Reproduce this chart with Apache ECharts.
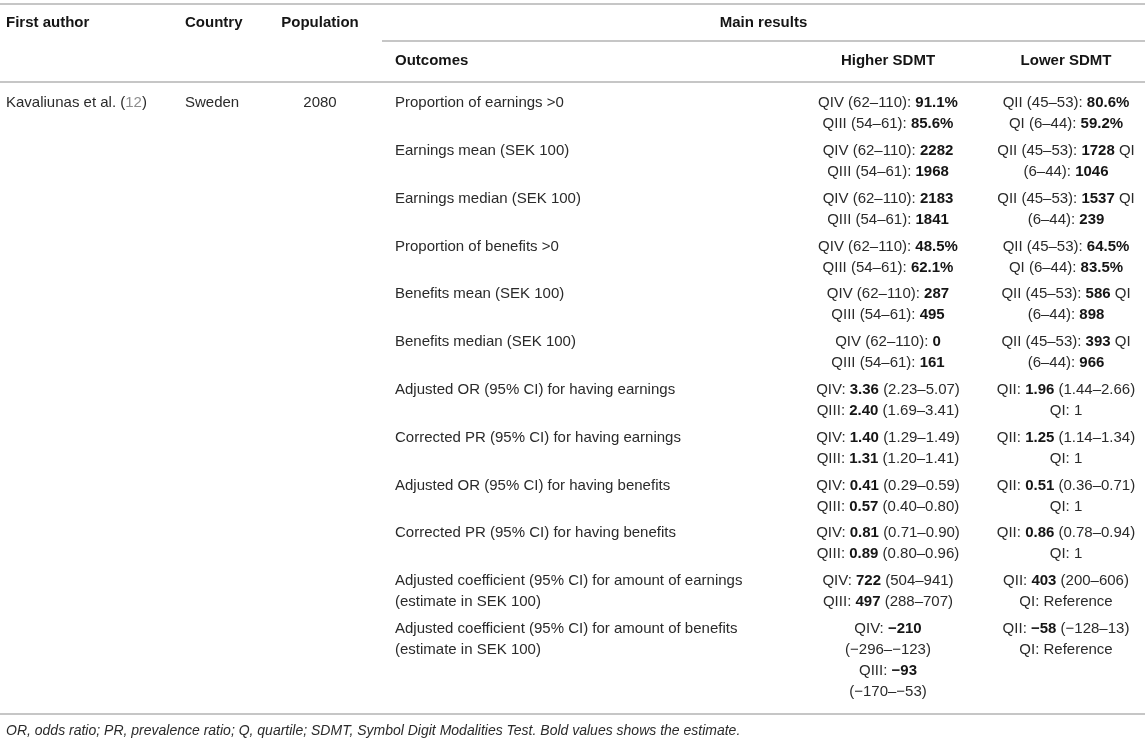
<!DOCTYPE html>
<html>
<head>
<meta charset="utf-8">
<script src="https://cdn.jsdelivr.net/npm/echarts@6/dist/echarts.min.js"></script>
<style>
html,body{margin:0;padding:0;background:#fff;}
#chart{width:1145px;height:743px;}
</style>
</head>
<body>
<div id="chart"></div>
<script>
// ---------- DATA ----------
const headerTop = ['First author', 'Country', 'Population', 'Main results'];
const headerSub = ['Outcomes', 'Higher SDMT', 'Lower SDMT'];
const authors = ['Kavaliunas et al. ({g|12})'];
const countries = ['Sweden'];
const populations = ['2080'];
const outcomes = [
  ['Proportion of earnings >0'],
  ['Earnings mean (SEK 100)'],
  ['Earnings median (SEK 100)'],
  ['Proportion of benefits >0'],
  ['Benefits mean (SEK 100)'],
  ['Benefits median (SEK 100)'],
  ['Adjusted OR (95% CI) for having earnings'],
  ['Corrected PR (95% CI) for having earnings'],
  ['Adjusted OR (95% CI) for having benefits'],
  ['Corrected PR (95% CI) for having benefits'],
  ['Adjusted coefficient (95% CI) for amount of earnings', '(estimate in SEK 100)'],
  ['Adjusted coefficient (95% CI) for amount of benefits', '(estimate in SEK 100)']
];
const higherSDMT = [
  ['QIV (62–110): {b|91.1%}', 'QIII (54–61): {b|85.6%}'],
  ['QIV (62–110): {b|2282}', 'QIII (54–61): {b|1968}'],
  ['QIV (62–110): {b|2183}', 'QIII (54–61): {b|1841}'],
  ['QIV (62–110): {b|48.5%}', 'QIII (54–61): {b|62.1%}'],
  ['QIV (62–110): {b|287}', 'QIII (54–61): {b|495}'],
  ['QIV (62–110): {b|0}', 'QIII (54–61): {b|161}'],
  ['QIV: {b|3.36} (2.23–5.07)', 'QIII: {b|2.40} (1.69–3.41)'],
  ['QIV: {b|1.40} (1.29–1.49)', 'QIII: {b|1.31} (1.20–1.41)'],
  ['QIV: {b|0.41} (0.29–0.59)', 'QIII: {b|0.57} (0.40–0.80)'],
  ['QIV: {b|0.81} (0.71–0.90)', 'QIII: {b|0.89} (0.80–0.96)'],
  ['QIV: {b|722} (504–941)', 'QIII: {b|497} (288–707)'],
  ['QIV: {b|−210}', '(−296–−123)', 'QIII: {b|−93}', '(−170–−53)']
];
const lowerSDMT = [
  ['QII (45–53): {b|80.6%}', 'QI (6–44): {b|59.2%}'],
  ['QII (45–53): {b|1728} QI', '(6–44): {b|1046}'],
  ['QII (45–53): {b|1537} QI', '(6–44): {b|239}'],
  ['QII (45–53): {b|64.5%}', 'QI (6–44): {b|83.5%}'],
  ['QII (45–53): {b|586} QI', '(6–44): {b|898}'],
  ['QII (45–53): {b|393} QI', '(6–44): {b|966}'],
  ['QII: {b|1.96} (1.44–2.66)', 'QI: 1'],
  ['QII: {b|1.25} (1.14–1.34)', 'QI: 1'],
  ['QII: {b|0.51} (0.36–0.71)', 'QI: 1'],
  ['QII: {b|0.86} (0.78–0.94)', 'QI: 1'],
  ['QII: {b|403} (200–606)', 'QI: Reference'],
  ['QII: {b|−58} (−128–13)', 'QI: Reference']
];
const footnote = 'OR, odds ratio; PR, prevalence ratio; Q, quartile; SDMT, Symbol Digit Modalities Test. Bold values shows the estimate.';

// ---------- LAYOUT (styles / positions) ----------
const W = 1145, H = 743;
const FONT = '"Liberation Sans", Arial, Helvetica, sans-serif';
const FS = 15;
const FOOT_FS = 14;
const LINE_H = 21;
const TEXT = '#2a2a2a';
const HEAD = '#151515';
const RULE = '#b3b3b3';
const COLS = [
  {x: 6, align: 'left'},     // author
  {x: 185, align: 'left'},   // country
  {x: 320, align: 'center'}, // population
  {x: 395, align: 'left'},   // outcomes
  {x: 888, align: 'center'}, // higher
  {x: 1066, align: 'center'} // lower
];
const MAIN_SPAN = [382, W];
const HEAD1_Y = 23, HEAD2_Y = 61;
const FIRST_ROW_Y = 103, ROW_PITCH = 47.8;
const RULES = [
  {y: 4, x0: 0, x1: W},
  {y: 41, x0: MAIN_SPAN[0], x1: W},
  {y: 82, x0: 0, x1: W},
  {y: 714, x0: 0, x1: W}
];
const FOOT_Y = 731;

function rowY(i) { return FIRST_ROW_Y + i * ROW_PITCH; }

// build cell items
const cells = [];
function addCell(x, y, lines, align, opts) {
  cells.push(Object.assign({value: [x, y], lines: lines, align: align}, opts || {}));
}
// header row 1
addCell(COLS[0].x, HEAD1_Y, [headerTop[0]], 'left', {bold: true});
addCell(COLS[1].x, HEAD1_Y, [headerTop[1]], 'left', {bold: true});
addCell(COLS[2].x, HEAD1_Y, [headerTop[2]], 'center', {bold: true});
addCell((MAIN_SPAN[0] + MAIN_SPAN[1]) / 2, HEAD1_Y, [headerTop[3]], 'center', {bold: true});
// header row 2
addCell(COLS[3].x, HEAD2_Y, [headerSub[0]], 'left', {bold: true});
addCell(COLS[4].x, HEAD2_Y, [headerSub[1]], 'center', {bold: true});
addCell(COLS[5].x, HEAD2_Y, [headerSub[2]], 'center', {bold: true});
// body
authors.forEach((t, i) => addCell(COLS[0].x, rowY(i), [t], COLS[0].align));
countries.forEach((t, i) => addCell(COLS[1].x, rowY(i), [t], COLS[1].align));
populations.forEach((t, i) => addCell(COLS[2].x, rowY(i), [t], COLS[2].align));
outcomes.forEach((t, i) => addCell(COLS[3].x, rowY(i), t, COLS[3].align));
higherSDMT.forEach((t, i) => addCell(COLS[4].x, rowY(i), t, COLS[4].align));
lowerSDMT.forEach((t, i) => addCell(COLS[5].x, rowY(i), t, COLS[5].align));
// footnote
addCell(COLS[0].x, FOOT_Y, [footnote], 'left', {italic: true, size: FOOT_FS});

const rich = {
  b: {fontWeight: 'bold', fontSize: FS, fontFamily: FONT, fill: HEAD, lineHeight: LINE_H},
  g: {fontSize: FS, fontFamily: FONT, fill: '#8e8e8e', lineHeight: LINE_H}
};

const chart = echarts.init(document.getElementById('chart'), null, {renderer: 'canvas'});
chart.setOption({
  animation: false,
  backgroundColor: '#ffffff',
  grid: {left: 0, right: 0, top: 0, bottom: 0},
  xAxis: {type: 'value', min: 0, max: W, show: false},
  yAxis: {type: 'value', min: 0, max: H, inverse: true, show: false},
  series: [
    {
      type: 'custom',
      name: 'rules',
      clip: false,
      data: RULES.map(r => [r.x0, r.y, r.x1]),
      renderItem: function (params, api) {
        const p0 = api.coord([api.value(0), api.value(1)]);
        const p1 = api.coord([api.value(2), api.value(1)]);
        return {
          type: 'line',
          shape: {x1: p0[0], y1: p0[1], x2: p1[0], y2: p1[1]},
          style: {stroke: RULE, lineWidth: 1.4}
        };
      }
    },
    {
      type: 'custom',
      name: 'cells',
      clip: false,
      data: cells,
      renderItem: function (params, api) {
        const item = cells[params.dataIndex];
        const p = api.coord([api.value(0), api.value(1)]);
        const children = item.lines.map((ln, k) => ({
          type: 'text',
          x: p[0],
          y: p[1] + k * LINE_H,
          style: {
            text: ln,
            fill: item.bold ? HEAD : TEXT,
            fontSize: item.size || FS,
            fontFamily: FONT,
            fontWeight: item.bold ? 'bold' : 'normal',
            fontStyle: item.italic ? 'italic' : 'normal',
            align: item.align,
            verticalAlign: 'middle',
            lineHeight: LINE_H,
            rich: rich
          }
        }));
        return {type: 'group', children: children};
      }
    }
  ]
});
</script>
</body>
</html>
